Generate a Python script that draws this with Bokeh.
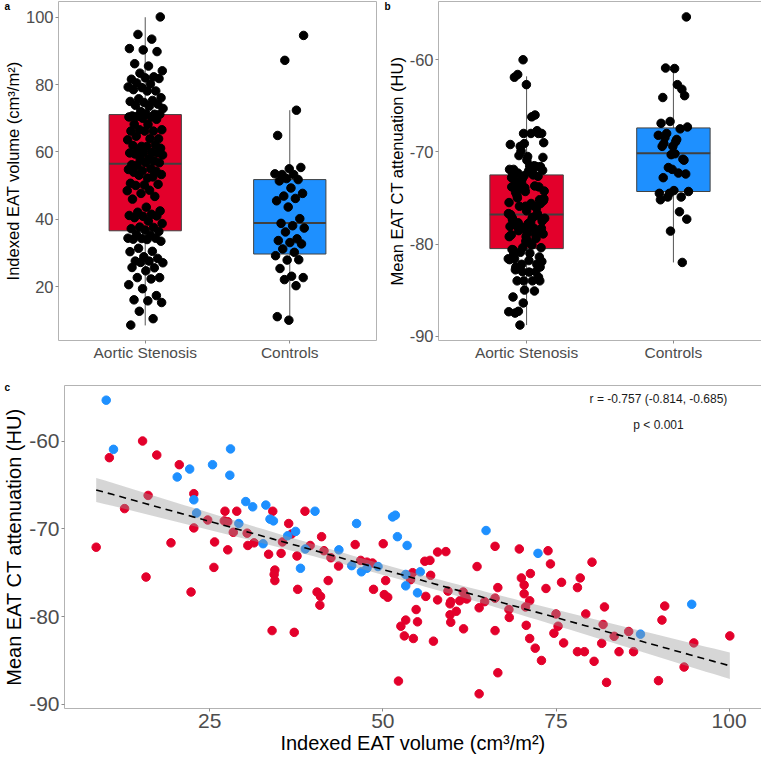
import numpy as np
from bokeh.plotting import figure
from bokeh.models import Range1d, FixedTicker, Label, ColumnDataSource, Title
from bokeh.layouts import column, row
from bokeh.embed import file_html
from bokeh.resources import INLINE

groups = ["Aortic Stenosis", "Controls"]

# Aortic stenosis patients: indexed EAT volume (cm3/m2) and mean EAT attenuation (HU)
as_vol = [8.6, 10.5, 12.7, 15.3, 15.8, 16.1, 17.35, 19.4, 20.6, 22.3, 22.7, 22.7, 24.7, 25.7, 25.6,
          27.2, 27.1, 27.6, 27.6, 28.4, 28.9, 30.4, 30.5, 31.4, 33.5, 34.0, 34.1, 34.4, 34.3, 34.4,
          35.3, 35.5, 36.4, 36.8, 37.2, 37.6, 37.7, 38.75, 39.5, 40.5, 41.0, 40.9, 41.15, 41.5, 42.1,
          42.5, 43.6, 46.0, 46.8, 47.7, 48.5, 48.65,
          50.05, 50.4, 50.2, 50.7, 52.6, 53.1, 53.3, 52.25, 54.0, 54.3, 54.4, 54.8, 55.0, 56.06, 56.8,
          56.9, 56.2, 57.3, 57.9, 59.1, 57.9, 59.4, 59.7, 59.8, 59.7, 59.8, 60.6, 61.1, 61.6, 61.9,
          62.1, 61.65, 63.6, 63.9, 64.7, 63.9, 66.2, 66.2, 66.2, 66.6, 66.6, 68.2, 68.25, 69.7, 70.0,
          70.4, 70.4, 70.6, 71.2, 71.3, 70.7, 71.2, 72.0, 72.9, 73.55, 73.85, 74.2, 74.7, 75.0, 75.3,
          75.8, 76.1, 78.1, 78.5, 78.1, 79.1, 79.3, 80.2, 80.5, 81.8, 82.0, 81.6, 82.3, 83.4, 84.1,
          85.5, 86.2, 89.8, 90.3, 90.7, 93.5, 94.9, 100.1]
as_hu = [-72.1, -61.9, -67.7, -60.0, -75.5, -66.2, -61.6, -71.6, -62.7, -77.2, -66.0, -69.9, -69.0, -71.5, -74.4,
         -68.0, -69.1, -69.2, -72.4, -70.4, -68.0, -70.5, -71.9, -71.6, -72.9, -81.6, -68.0, -74.7, -75.2, -75.9,
         -72.8, -71.5, -69.4, -70.6, -81.8, -73.1, -76.9, -68.0, -71.9, -77.2, -77.7, -78.7, -70.9, -72.5, -75.9,
         -73.3, -74.25, -71.8, -73.6, -73.8, -73.9, -76.9,
         -71.7, -75.9, -77.5, -77.8, -81.1, -82.2, -80.4, -87.35, -75.8, -75.0, -82.5, -79.2, -80.6, -73.7, -73.6,
         -75.3, -77.7, -82.8, -72.65, -72.6, -78.1, -77.1, -78.55, -78.3, -79.8, -80.65, -79.4, -78.2, -77.2, -77.7,
         -78.0, -81.4, -74.3, -79.0, -78.3, -88.8, -72.0, -77.9, -81.6, -76.7, -86.4, -79.2, -80.1, -72.3, -75.6,
         -76.4, -77.4, -78.9, -78.2, -75.1, -81.0, -82.5, -83.6, -85.0, -76.8, -72.5, -74.0, -81.9, -79.7, -81.1,
         -76.1, -83.0, -76.7, -75.6, -84.0, -84.0, -79.7, -73.8, -85.1, -80.9, -78.9, -83.05, -87.5, -82.25, -84.0,
         -81.7, -84.0, -87.3, -80.4, -78.8, -85.75, -83.0, -82.2]

# Controls
ctrl_vol = [10.05, 11.1, 20.3, 22.1, 22.7, 23.1, 25.4, 28.0, 27.9, 29.2, 30.2, 31.2, 32.7, 33.1, 33.7,
            34.2, 36.25, 37.4, 38.1, 38.8, 40.2, 43.65, 45.5, 46.2, 46.9, 47.7, 49.3, 51.4, 51.8, 52.1,
            53.5, 53.3, 53.3, 55.4, 55.0, 64.9, 72.4, 87.2, 94.6]
ctrl_hu = [-55.35, -60.95, -64.1, -63.2, -66.7, -68.2, -62.7, -60.9, -63.9, -69.4, -66.9, -67.5, -71.7, -67.3, -68.9,
           -69.1, -70.8, -70.3, -74.5, -72.3, -68.0, -72.4, -74.2, -69.4, -74.9, -74.5, -74.3, -68.65, -68.45, -70.9,
           -71.9, -75.2, -76.5, -74.9, -77.3, -70.2, -72.8, -82.0, -78.6]

# Box statistics: lower whisker, Q1, median, Q3, upper whisker
vol_box_as = [8.5, 36.6, 56.5, 71.1, 100.0]
vol_box_ctrl = [9.8, 29.7, 38.9, 51.8, 72.4]
hu_box_as = [-88.8, -80.5, -76.8, -72.5, -61.8]
hu_box_ctrl = [-82.0, -74.3, -70.15, -67.4, -60.8]

vol_ticks = [20, 40, 60, 80, 100]
vol_ticks_c = [25, 50, 75, 100]
hu_ticks = [-90, -80, -70, -60]

vol_label = "Indexed EAT volume (cm\u00b3/m\u00b2)"
hu_label = "Mean EAT CT attenuation (HU)"
r_text = "r = -0.757 (-0.814, -0.685)"
p_text = "p < 0.001"

RED = "#E3002B"
BLUE = "#1E90FF"
FONT = "Liberation Sans"


def expand(vals):
    lo, hi = min(vals), max(vals)
    d = (hi - lo) * 0.05
    return lo - d, hi + d


def jitter(n, phase, width=0.25):
    return [((k * 0.6180339887 + phase) % 1.0 - 0.5) * width for k in range(n)]


def hyphen_labels(ticks):
    return {t: str(t) for t in ticks}


def style(p, xfs, yfs, tfs_x, tfs_y):
    p.xgrid.visible = False
    p.ygrid.visible = False
    p.outline_line_color = "#b3b3b3"
    p.outline_line_width = 1
    p.background_fill_color = "white"
    p.border_fill_color = "white"
    for ax, fs, tfs in ((p.xaxis[0], xfs, tfs_x), (p.yaxis[0], yfs, tfs_y)):
        ax.axis_line_color = None
        ax.major_tick_line_color = "#8c8c8c"
        ax.major_tick_out = 3
        ax.major_tick_in = 0
        ax.minor_tick_line_color = None
        ax.major_label_text_color = "#4d4d4d"
        ax.major_label_text_font = FONT
        ax.major_label_text_font_size = fs
        ax.major_label_standoff = 2
        ax.axis_label_text_font = FONT
        ax.axis_label_text_font_size = tfs
        ax.axis_label_text_font_style = "normal"
        ax.axis_label_text_color = "black"
        ax.axis_label_standoff = 1


def add_letter(p, text, offset, standoff):
    t = Title(text=text, align="left", offset=offset, standoff=standoff,
              text_font=FONT, text_font_style="bold", text_font_size="10px",
              text_color="black")
    p.add_layout(t, "above")


def box_panel(v_as, v_ctrl, box_as, box_ctrl, ticks, ylabel, letter, left, fw, right, phase):
    allv = v_as + v_ctrl
    lo, hi = expand(allv)
    p = figure(frame_width=fw, frame_height=339, min_border_left=left, min_border_right=right,
               min_border_top=1, min_border_bottom=30, x_range=Range1d(0.4, 2.6),
               y_range=Range1d(lo, hi), output_backend="svg", toolbar_location=None)
    pos = [1, 2]
    boxes = [box_as, box_ctrl]
    src = ColumnDataSource(dict(
        x=pos,
        left=[q - 0.25 for q in pos], right=[q + 0.25 for q in pos],
        wlo=[b[0] for b in boxes], q1=[b[1] for b in boxes], med=[b[2] for b in boxes],
        q3=[b[3] for b in boxes], whi=[b[4] for b in boxes], color=[RED, BLUE]))
    p.segment(x0="x", y0="wlo", x1="x", y1="whi", source=src, line_color="#555555", line_width=1)
    p.quad(left="left", right="right", bottom="q1", top="q3", source=src,
           fill_color="color", line_color="#404040", line_width=1)
    p.segment(x0="left", y0="med", x1="right", y1="med", source=src, line_color="#404040", line_width=2)
    jx_as = jitter(len(v_as), phase)
    jx_c = jitter(len(v_ctrl), phase + 0.37, 0.21)
    p.scatter([1 + j for j in jx_as], v_as, size=8.5, color="black")
    p.scatter([2 + j for j in jx_c], v_ctrl, size=8.5, color="black")
    p.xaxis.ticker = FixedTicker(ticks=pos)
    p.xaxis.major_label_overrides = {1: groups[0], 2: groups[1]}
    p.yaxis.ticker = FixedTicker(ticks=ticks)
    p.yaxis.major_label_overrides = hyphen_labels(ticks)
    p.yaxis.axis_label = ylabel
    style(p, "15.5px", "16.5px", "16.5px", "16.5px")
    p.xaxis.major_label_standoff = 0
    add_letter(p, letter, -(left - 3), -20)
    return p


pa = box_panel(as_vol, ctrl_vol, vol_box_as, vol_box_ctrl, vol_ticks, vol_label, "a", 57, 318, 5, 0.1)
pb = box_panel(as_hu, ctrl_hu, hu_box_as, hu_box_ctrl, hu_ticks, hu_label, "b", 57, 323, 1, 0.55)

# Panel c: scatter with regression line and 95% band
xlo, xhi = expand(as_vol + ctrl_vol)
ylo, yhi = expand(as_hu + ctrl_hu)
pc = figure(frame_width=697, frame_height=323, min_border_left=63, min_border_right=1,
            min_border_top=15, min_border_bottom=50, x_range=Range1d(xlo, xhi),
            y_range=Range1d(ylo, yhi), output_backend="svg", toolbar_location=None)
pc.scatter(as_vol, as_hu, size=8.5, color=RED)
pc.scatter(ctrl_vol, ctrl_hu, size=8.5, color=BLUE)

X = np.array(as_vol + ctrl_vol)
Y = np.array(as_hu + ctrl_hu)
n = len(X)
slope, icpt = np.polyfit(X, Y, 1)
resid = Y - (icpt + slope * X)
s = np.sqrt(np.sum(resid ** 2) / (n - 2))
sxx = np.sum((X - X.mean()) ** 2)
xs = np.linspace(X.min(), X.max(), 80)
fit = icpt + slope * xs
se = s * np.sqrt(1.0 / n + (xs - X.mean()) ** 2 / sxx)
tq = 1.974
pc.varea(x=xs, y1=fit - tq * se, y2=fit + tq * se, fill_color="#999999", fill_alpha=0.4)
pc.line(xs, fit, line_color="black", line_width=1.6, line_dash="7 5")

pc.xaxis.ticker = FixedTicker(ticks=vol_ticks_c)
pc.yaxis.ticker = FixedTicker(ticks=hu_ticks)
pc.yaxis.major_label_overrides = hyphen_labels(hu_ticks)
pc.xaxis.axis_label = vol_label
pc.yaxis.axis_label = hu_label
style(pc, "21px", "21px", "20px", "20px")
pc.add_layout(Label(x=89.8, y=-55.2, text=r_text,
                    text_font=FONT, text_font_size="12px", text_align="center",
                    text_baseline="middle", text_color="#1a1a1a"))
pc.add_layout(Label(x=89.8, y=-58.2, text=p_text,
                    text_font=FONT, text_font_size="12px", text_align="center",
                    text_baseline="middle", text_color="#1a1a1a"))
add_letter(pc, "c", -60, -15)

layout = column(row(pa, pb), pc)
open("out.html", "w").write(file_html(layout, INLINE))
